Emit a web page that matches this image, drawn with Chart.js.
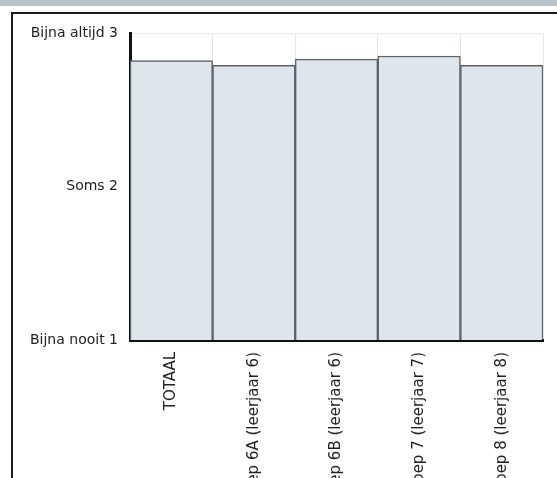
<!DOCTYPE html>
<html>
<head>
<meta charset="utf-8">
<script src="https://cdn.jsdelivr.net/npm/chart.js@4/dist/chart.umd.min.js"></script>
<style>
html,body{margin:0;padding:0;background:#fff;overflow:hidden;width:557px;height:478px}
#topbar{position:absolute;left:0;top:0;width:557px;height:6px;background:#b8c4cd}
#frame{position:absolute;left:11px;top:12px;width:700px;height:700px;border:2px solid #1c1c1c}
#wrap{position:absolute;left:0;top:0;width:557px;height:540px}
</style>
</head>
<body>
<div id="topbar"></div>
<div id="frame"></div>
<div id="wrap"><canvas id="chart" width="557" height="540"></canvas></div>
<script>

const categories = ["TOTAAL","Groep 6A (leerjaar 6)","Groep 6B (leerjaar 6)","Groep 7 (leerjaar 7)","Groep 8 (leerjaar 8)"]
const scores = [2.82, 2.79, 2.83, 2.85, 2.79]
const tickValues = [1, 2, 3]
const tickLabels = ["Bijna nooit 1", "Soms 2", "Bijna altijd 3"]

const ctx = document.getElementById("chart").getContext("2d")

new Chart(ctx,{

type:"bar",

data:{
labels:categories,
datasets:[{
data:scores,
backgroundColor:"#dfe5ec",
borderColor:"#5d6266",
borderWidth:1.5,
borderSkipped:false,
barPercentage:1,
categoryPercentage:1
}]
},

options:{
responsive:false,
animation:false,
layout:{padding:{top:33,right:14,left:0,bottom:0}},
plugins:{legend:{display:false},tooltip:{enabled:false}},
scales:{
x:{
grid:{color:"#e6e6e6",drawTicks:false,offset:true},
border:{color:"#111",width:3},
ticks:{
color:"#222",
font:{family:"DejaVu Sans",size:15},
minRotation:90,
maxRotation:90,
autoSkip:false,
padding:12
},
afterFit:function(s){ s.height = 200 }
},
y:{
min:1,
max:3,
z:1,
afterBuildTicks:function(s){ s.ticks = tickValues.map(v=>({value:v})) },
grid:{color:"#e9ecef",drawTicks:false},
border:{color:"#111",width:3},
ticks:{
color:"#222",
font:{family:"DejaVu Sans",size:14},
padding:12,
callback:function(v){ return tickLabels[tickValues.indexOf(v)] }
},
afterFit:function(s){ s.width = 130 }
}
}
}

})

</script>
</body>
</html>
